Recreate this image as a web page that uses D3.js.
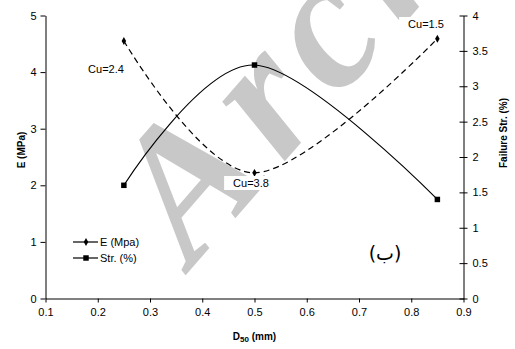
<!DOCTYPE html>
<html>
<head>
<meta charset="utf-8">
<script src="https://cdn.jsdelivr.net/npm/d3@7"></script>
<style>
  html, body { margin: 0; padding: 0; background: #fff; }
  svg { display: block; font-family: "Liberation Sans", Arial, sans-serif; }
  .wm { font-family: "Liberation Serif", "DejaVu Serif", "Times New Roman", serif; font-style: italic; font-weight: bold; }
</style>
</head>
<body>
<svg id="chart" width="515" height="349"></svg>
<script>
// Particle size D50 (mm)
const d50 = [0.25, 0.5, 0.85];
// Elastic modulus E (MPa), left axis
const modulus = [4.55, 2.22, 4.59];
// Failure strain (%), right axis
const strain = [1.6, 3.3, 1.4];
// Uniformity coefficient labels
const cuLabels = ["Cu=2.4", "Cu=3.8", "Cu=1.5"];

const xTicks = [0.1, 0.2, 0.3, 0.4, 0.5, 0.6, 0.7, 0.8, 0.9];
const yLeftTicks = [0, 1, 2, 3, 4, 5];
const yRightTicks = [0, 0.5, 1, 1.5, 2, 2.5, 3, 3.5, 4];

const svg = d3.select("#chart");

const x = d3.scaleLinear().domain([0.1, 0.9]).range([45.5, 463.5]);
const yL = d3.scaleLinear().domain([0, 5]).range([298.5, 15.5]);
const yR = d3.scaleLinear().domain([0, 4]).range([298.5, 15.5]);

// background watermark
svg.append("text")
  .attr("class", "wm")
  .attr("transform", "translate(192,268) rotate(-49)")
  .style("font-size", "188px")
  .style("letter-spacing", "12px")
  .attr("fill", "#c8c8c8")
  .text("Arch");

// axes
const axisFont = g => g.selectAll("text")
  .style("font-family", "'Liberation Sans', Arial, sans-serif")
  .style("font-size", "11px").attr("fill", "#000");

svg.append("g")
  .attr("transform", `translate(0,${yL(0)})`)
  .call(d3.axisBottom(x).tickValues(xTicks).tickFormat(d3.format(".1f")).tickSizeInner(4).tickSizeOuter(0).tickPadding(6))
  .call(axisFont)
  .call(g => g.select(".domain").attr("stroke", "#000"));

svg.append("g")
  .attr("transform", `translate(${x(0.1)},0)`)
  .call(d3.axisLeft(yL).tickValues(yLeftTicks).tickFormat(d3.format("d")).tickSizeInner(5).tickSizeOuter(0).tickPadding(4))
  .call(axisFont);

const rightAxis = svg.append("g")
  .attr("transform", `translate(${x(0.9)},0)`)
  .call(d3.axisRight(yR).tickValues(yRightTicks).tickFormat(d => d3.format("")(d)).tickSizeInner(4).tickSizeOuter(0).tickPadding(5))
  .call(axisFont);
rightAxis.selectAll(".tick line").attr("x1", -4);

// axis titles
svg.append("text")
  .attr("transform", "translate(25,150) rotate(-90)")
  .attr("text-anchor", "middle")
  .style("font-size", "10px").style("font-weight", "bold")
  .text("E (MPa)");

svg.append("text")
  .attr("transform", "translate(507,133) rotate(-90)")
  .attr("text-anchor", "middle")
  .style("font-size", "10px").style("font-weight", "bold")
  .text("Failure Str. (%)");

const xt = svg.append("text")
  .attr("x", (x(0.1) + x(0.9)) / 2).attr("y", 340)
  .attr("text-anchor", "middle")
  .style("font-size", "10px").style("font-weight", "bold");
xt.append("tspan").text("D");
xt.append("tspan").style("font-size", "8px").attr("dy", 2).text("50");
xt.append("tspan").attr("dy", -2).text(" (mm)");

// smoothed series lines
const ptsE = d50.map((d, i) => [x(d), yL(modulus[i])]);
const ptsS = d50.map((d, i) => [x(d), yR(strain[i])]);
const line = d3.line().curve(d3.curveCatmullRom.alpha(0));

svg.append("path")
  .attr("d", line(ptsE))
  .attr("fill", "none").attr("stroke", "#000").attr("stroke-width", 1.2)
  .attr("stroke-dasharray", "6,4");

svg.append("path")
  .attr("d", line(ptsS))
  .attr("fill", "none").attr("stroke", "#000").attr("stroke-width", 1.2);

// markers
const diamond = d3.symbol().type(d3.symbolDiamond).size(18);
const square = d3.symbol().type(d3.symbolSquare).size(30);

svg.append("g").selectAll("path").data(ptsE).join("path")
  .attr("transform", d => `translate(${d[0]},${d[1]})`)
  .attr("d", diamond).attr("fill", "#000");

svg.append("g").selectAll("path").data(ptsS).join("path")
  .attr("transform", d => `translate(${d[0]},${d[1]})`)
  .attr("d", square).attr("fill", "#000");

// Cu annotations
const cuPos = [[106, 73], [251, 187], [426, 28]];
cuLabels.forEach((t, i) => {
  const g = svg.append("g");
  const txt = g.append("text")
    .attr("x", cuPos[i][0]).attr("y", cuPos[i][1])
    .attr("text-anchor", "middle")
    .style("font-size", "11px").attr("fill", "#000")
    .text(t);
  const b = txt.node().getBBox();
  g.insert("rect", "text")
    .attr("x", b.x - 9).attr("y", b.y - 1)
    .attr("width", b.width + 12).attr("height", b.height + 2)
    .attr("fill", "#fff");
});

// legend
const legend = svg.append("g");
[["E (Mpa)", diamond], ["Str. (%)", square]].forEach((d, i) => {
  const yy = 242 + i * 16;
  legend.append("line").attr("x1", 73).attr("x2", 98).attr("y1", yy).attr("y2", yy)
    .attr("stroke", "#000").attr("stroke-width", 1.2);
  legend.append("path").attr("transform", `translate(86,${yy})`).attr("d", d[1]).attr("fill", "#000");
  legend.append("text").attr("x", 100).attr("y", yy + 4)
    .style("font-size", "11px").text(d[0]);
});

// panel letter
svg.append("text")
  .attr("x", 385).attr("y", 260)
  .attr("text-anchor", "middle")
  .style("font-family", "'DejaVu Sans', 'Noto Sans', sans-serif")
  .style("font-size", "19px")
  .text("(ب)");
</script>
</body>
</html>
